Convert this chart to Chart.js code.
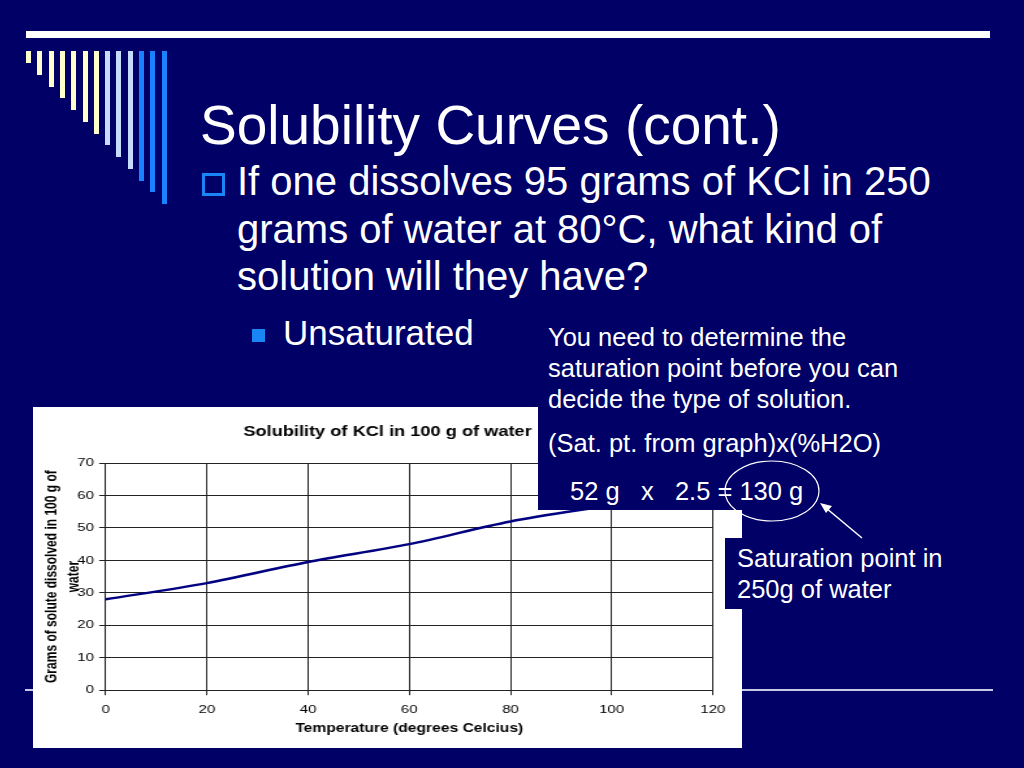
<!DOCTYPE html>
<html>
  <head>
    <title>Solubility Curves (cont.)</title>
    <script src="https://cdn.jsdelivr.net/npm/chart.js"></script>
    <style>
      body { margin: 0; background: #000066; width: 1024px; height: 768px; overflow: hidden;
             font-family: "Liberation Sans", Arial, sans-serif; color: #fff; }
      .abs { position: absolute; }
      .txt { position: absolute; white-space: pre; }
      .bar { position: absolute; top: 51px; width: 5px; }
    </style>
  </head>
  <body>
    <div class="abs" style="left:26px; top:31px; width:964px; height:7px; background:#fff;"></div>
    <div id="bars"></div>
    <div class="abs" style="left:25px; top:689px; width:968px; height:2px; background:#c8c8e6;"></div>

    <div class="txt" style="left:200px; top:98px; font-size:55px; line-height:55px;">Solubility Curves (cont.)</div>
    <div class="abs" style="left:202px; top:173px; width:17px; height:17px; border:3px solid #1a86f5;"></div>
    <div class="txt" style="left:237px; top:158px; font-size:40px; line-height:47.5px;">If one dissolves 95 grams of KCl in 250
grams of water at 80°C, what kind of
solution will they have?</div>
    <div class="abs" style="left:252px; top:329px; width:13px; height:13px; background:#1a86f5;"></div>
    <div class="txt" style="left:283px; top:315px; font-size:35px; line-height:35px;">Unsaturated</div>

    <div class="abs" style="left:33px; top:407px; width:709px; height:341px; background:#fff; overflow:hidden;">
      <div id="wrap" style="position:relative; width:545px; height:341px; transform:scaleX(1.3009); transform-origin:0 0;">
        <canvas id="myChart"></canvas>
      </div>
    </div>

    <div class="abs" style="left:538px; top:318px; width:400px; height:192px; background:#000066;"></div>
    <div class="txt" style="left:548px; top:322px; font-size:25.5px; line-height:31px;">You need to determine the
saturation point before you can
decide the type of solution.</div>
    <div class="txt" style="left:548px; top:428px; font-size:25.5px; line-height:31px;">(Sat. pt. from graph)x(%H2O)</div>
    <div class="txt" style="left:570px; top:476px; font-size:25.5px; line-height:31px;">52 g   x   2.5 = 130 g</div>

    <div class="abs" style="left:725px; top:538px; width:240px; height:71px; background:#000066;"></div>
    <div class="txt" style="left:737px; top:543px; font-size:25.5px; line-height:31px;">Saturation point in
250g of water</div>

    <svg class="abs" style="left:0; top:0;" width="1024" height="768">
      <ellipse cx="772" cy="491" rx="47" ry="30" fill="none" stroke="#fff" stroke-width="1.2"/>
      <line x1="862" y1="538" x2="826" y2="508" stroke="#fff" stroke-width="1.5"/>
      <polygon points="820,503 832,506 826,513" fill="#fff"/>
    </svg>

    <script>
      // decorative bars of the slide template
      var barColors = ["#ffffcc", "#ffffcc", "#ffffcc", "#ffffcc", "#ffffcc", "#ffffcc", "#ffffcc",
        "#c6dcff", "#c6dcff", "#c6dcff", "#1a82ff", "#1a82ff", "#1a82ff"];
      var barsHtml = "";
      for (var b = 0; b < barColors.length; b++) {
        barsHtml += '<div class="bar" style="left:' + (26 + b * 11.3) + 'px; height:' + (12 + b * 11.75) +
          'px; background:' + barColors[b] + ';"></div>';
      }
      document.getElementById("bars").innerHTML = barsHtml;

      var temps = [0, 20, 40, 60, 80, 100];
      var solubility = [28, 33, 39.5, 45, 52, 57];
      var xTicks = [0, 20, 40, 60, 80, 100, 120];
      var yTicks = [0, 10, 20, 30, 40, 50, 60, 70];

      var fontFamily = "'Liberation Sans', Arial, sans-serif";
      Chart.defaults.font.family = fontFamily;
      Chart.defaults.color = "#000";

      var ctx = document.getElementById("myChart").getContext("2d");
      var myChart = new Chart(ctx, {
        type: "line",
        data: {
          datasets: [{
            data: temps.map(function (t, i) { return { x: t, y: solubility[i] }; }),
            borderColor: "#000080",
            borderWidth: 2.5,
            pointRadius: 0,
            tension: 0.3,
            fill: false
          }]
        },
        options: {
          responsive: true,
          maintainAspectRatio: false,
          animation: false,
          layout: { padding: { left: 0, right: 0, top: 0, bottom: 8.6 } },
          plugins: {
            legend: { display: false },
            tooltip: { enabled: false },
            title: {
              display: true,
              text: "Solubility of KCl in 100 g of water",
              color: "#000",
              font: { size: 14, weight: "bold", lineHeight: 1.2 },
              padding: { top: 16.6, bottom: 22.6 }
            }
          },
          scales: {
            x: {
              type: "linear",
              min: 0,
              max: 120,
              afterBuildTicks: function (s) { s.ticks = xTicks.map(function (v) { return { value: v }; }); },
              grid: { color: "#222", lineWidth: 1, tickLength: 5, tickColor: "#222" },
              border: { color: "#222" },
              ticks: { color: "#000", font: { size: 11.5 }, padding: 8, maxRotation: 0 },
              title: {
                display: true,
                text: "Temperature (degrees Celcius)",
                color: "#000",
                font: { size: 12, weight: "bold", lineHeight: 1.2 },
                padding: { top: -4, bottom: 4 }
              }
            },
            y: {
              min: 0,
              max: 70,
              afterBuildTicks: function (s) { s.ticks = yTicks.map(function (v) { return { value: v }; }); },
              grid: { color: "#222", lineWidth: 1, tickLength: 5, tickColor: "#222" },
              border: { color: "#222" },
              ticks: { color: "#000", font: { size: 11.5 }, padding: 4 },
              title: {
                display: true,
                text: ["Grams of solute dissolved in 100 g of", "water"],
                color: "#000",
                font: { size: 12, weight: "bold", lineHeight: 1.42 },
                padding: { top: 6.5, bottom: -10.5 }
              }
            },
            yRight: {
              position: "right",
              grid: { display: false },
              border: { display: false },
              ticks: { display: false },
              afterFit: function (s) { s.width = 22.4; }
            }
          }
        }
      });
    </script>
  </body>
</html>
